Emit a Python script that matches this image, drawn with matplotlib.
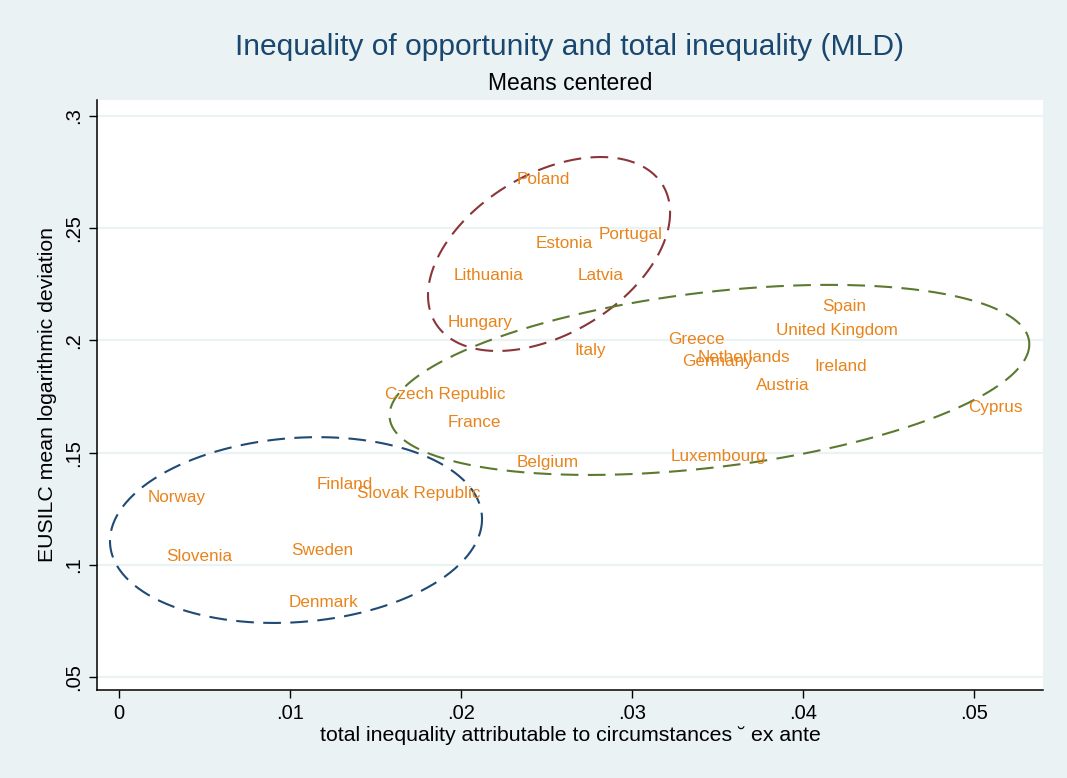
import numpy as np
import matplotlib
matplotlib.use('Agg')
import matplotlib.pyplot as plt

plt.rcParams['font.family'] = ['Liberation Sans', 'DejaVu Sans']

# Country positions (x: inequality from circumstances, y: MLD)
countries = ['Poland', 'Estonia', 'Portugal', 'Lithuania', 'Latvia', 'Hungary',
             'Italy', 'Greece', 'Germany', 'Netherlands', 'Spain', 'United Kingdom',
             'Ireland', 'Austria', 'Cyprus', 'Luxembourg', 'Czech Republic', 'France',
             'Belgium', 'Finland', 'Slovak Republic', 'Norway', 'Slovenia', 'Sweden',
             'Denmark']
x_vals = [0.0230, 0.0241, 0.0278, 0.0193, 0.0266, 0.0190,
          0.0264, 0.0319, 0.0327, 0.0336, 0.0409, 0.0382,
          0.0404, 0.0370, 0.0494, 0.0320, 0.0153, 0.0190,
          0.0230, 0.0113, 0.0137, 0.0014, 0.0025, 0.0098,
          0.0097]
y_vals = [0.2715, 0.2430, 0.2474, 0.2287, 0.2287, 0.2078,
          0.1957, 0.2002, 0.1908, 0.1922, 0.2153, 0.2042,
          0.1882, 0.1797, 0.1699, 0.1481, 0.1761, 0.1636,
          0.1454, 0.1360, 0.1320, 0.1302, 0.1039, 0.1062,
          0.0834]

# Cluster ellipses: centre, two semi-axis vectors (data units), colour
ell_centers = [(0.02515, 0.2385), (0.03453, 0.1824), (0.01035, 0.1155)]
ell_u = [(0.00708, 0.0184), (0.01871, 0.01586), (0.01088, 0.0049)]
ell_v = [(0.0, -0.0391), (0.0, -0.03926), (0.0, -0.0411)]
ell_colors = ['#8B3538', '#5B7A30', '#1F4A73']

x_ticks = [0, 0.01, 0.02, 0.03, 0.04, 0.05]
x_ticklabels = ['0', '.01', '.02', '.03', '.04', '.05']
y_ticks = [0.05, 0.10, 0.15, 0.20, 0.25, 0.30]
y_ticklabels = ['.05', '.1', '.15', '.2', '.25', '.3']

bg = '#EAF2F3'
fig = plt.figure(figsize=(10.67, 7.78), dpi=100, facecolor=bg)
ax = fig.add_axes([0.0909, 0.1131, 0.8866, 0.7584])
ax.set_facecolor('white')

# grid lines
for yt in y_ticks:
    ax.axhline(yt, color=bg, lw=1.6, zorder=0)

# ellipses
t = np.linspace(0, 2 * np.pi, 400)
for c, u, v, col in zip(ell_centers, ell_u, ell_v, ell_colors):
    ex = c[0] + u[0] * np.cos(t) + v[0] * np.sin(t)
    ey = c[1] + u[1] * np.cos(t) + v[1] * np.sin(t)
    ax.plot(ex, ey, color=col, lw=1.5, dashes=(8.5, 4.5), zorder=2)

# country labels
for name, xv, yv in zip(countries, x_vals, y_vals):
    ax.annotate(name, (xv, yv), xytext=(3, 0), textcoords='offset points',
                ha='left', va='center', color='#E8841C', fontsize=12.3, zorder=3)

ax.set_xlim(-0.00129, 0.05404)
ax.set_ylim(0.04423, 0.30713)
ax.set_xticks(x_ticks)
ax.set_xticklabels(x_ticklabels)
ax.set_yticks(y_ticks)
ax.set_yticklabels(y_ticklabels, rotation=90, va='center')
ax.tick_params(direction='out', length=6, width=1, labelsize=14.5, colors='black', pad=4)

for s in ['top', 'right']:
    ax.spines[s].set_visible(False)
for s in ['left', 'bottom']:
    ax.spines[s].set_linewidth(1.1)

ax.set_xlabel('total inequality attributable to circumstances \u02d8 ex ante', fontsize=15.3, labelpad=2)
ax.set_ylabel('EUSILC mean logarithmic deviation', fontsize=15.3, labelpad=5)

fig.text(0.534, 0.939, 'Inequality of opportunity and total inequality (MLD)',
         ha='center', va='center', fontsize=21.6, color='#1A476F')
fig.text(0.534, 0.893, 'Means centered', ha='center', va='center', fontsize=16.5, color='black')

fig.savefig('out.png', dpi=100, facecolor=bg)
